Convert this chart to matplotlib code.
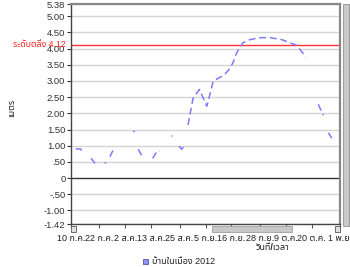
import matplotlib
matplotlib.use("Agg")
import numpy as np
import pandas as pd
import matplotlib.pyplot as plt
from matplotlib.patches import Rectangle

plt.rcParams['font.family'] = ['Liberation Sans', 'Noto Sans Thai']

# water level readings (m), None/NaN = no data
times = pd.Series(pd.to_datetime([
    "2012-07-12 00:00", "2012-07-14 02:00", "2012-07-15 00:00", None,
    "2012-07-18 12:00", "2012-07-20 05:00", None,
    "2012-07-24 05:00", "2012-07-24 22:00", None,
    "2012-07-26 12:00", "2012-07-28 05:00", None,
    "2012-08-05 12:00", "2012-08-05 22:00", None,
    "2012-08-07 12:00", "2012-08-09 00:00", None,
    "2012-08-13 14:00", "2012-08-15 07:00", "2012-08-16 17:00", None,
    "2012-08-21 12:00", "2012-08-21 22:00", None,
    "2012-08-24 19:00", "2012-08-25 22:00", "2012-08-26 22:00", None,
    "2012-08-28 14:00", "2012-08-30 17:00", "2012-09-02 10:00", "2012-09-05 14:00",
    "2012-09-08 07:00", "2012-09-12 19:00", "2012-09-15 10:00", "2012-09-16 19:00",
    "2012-09-18 05:00", "2012-09-20 19:00", "2012-09-23 22:00", "2012-09-28 02:00",
    "2012-10-02 07:00", "2012-10-07 07:00", "2012-10-13 17:00", "2012-10-17 14:00", None,
    "2012-10-22 19:00", "2012-10-24 22:00", None,
    "2012-10-27 02:00", "2012-10-28 12:00",
])).ffill()
levels = [
    0.90, 0.90, 0.77, np.nan,
    0.61, 0.45, np.nan,
    0.47, 0.47, np.nan,
    0.66, 0.92, np.nan,
    1.47, 1.42, np.nan,
    0.89, 0.69, np.nan,
    0.61, 0.81, 0.83, np.nan,
    1.31, 1.29, np.nan,
    0.99, 0.89, 0.99, np.nan,
    1.64, 2.46, 2.74, 2.22,
    3.00, 3.18, 3.39, 3.59,
    3.87, 4.18, 4.28, 4.34,
    4.34, 4.28, 4.10, 3.74, np.nan,
    2.28, 1.94, np.nan,
    1.40, 1.23,
]

bank_level = 4.12
bank_label = "ระดับตลิ่ง 4.12"
series_name = "บ้านในเมือง 2012"

yticks = [5.38, 5.00, 4.50, 4.00, 3.50, 3.00, 2.50, 2.00, 1.50, 1.00, 0.50, 0, -0.50, -1.00, -1.42]
ytick_labels = ["5.38", "5.00", "4.50", "4.00", "3.50", "3.00", "2.50", "2.00", "1.50",
                "1.00", ".50", "0", "-.50", "-1.00", "-1.42"]
xticks = pd.to_datetime(["2012-07-10", "2012-07-22", "2012-08-02", "2012-08-13", "2012-08-25",
                         "2012-09-05", "2012-09-16", "2012-09-28", "2012-10-09", "2012-10-20",
                         "2012-11-01"])
xtick_labels = ["10 ก.ค.", "22 ก.ค.", "2 ส.ค.", "13 ส.ค.", "25 ส.ค.", "5 ก.ย.", "16 ก.ย.",
                "28 ก.ย.", "9 ต.ค.", "20 ต.ค.", "1 พ.ย."]

fig = plt.figure(figsize=(3.5, 2.67), dpi=100)
ax = fig.add_axes([71 / 350, 1 - 224 / 267, 269 / 350, 220 / 267])

for y in yticks:
    if y == 0:
        ax.axhline(y, color="#333333", lw=1.0, zorder=1)
    else:
        ax.axhline(y, color="#d4d4d4", lw=1.0, zorder=1)
ax.axhline(bank_level, color="#ff3030", lw=1.0, zorder=2)

line, = ax.plot(times, levels, color="#7b7bff", lw=1.1, zorder=3)
line.set_dashes((4.5, 2.5))

ax.set_ylim(-1.42, 5.38)
ax.set_xlim(xticks[0], xticks[-1])
ax.set_yticks(yticks)
ax.set_yticklabels(ytick_labels)
ax.set_xticks(xticks)
ax.set_xticklabels(xtick_labels)
ax.tick_params(axis="y", length=3, width=0.8, pad=1, labelsize=6.8, colors="#333333",
               labelcolor="#333333")
ax.tick_params(axis="x", length=3, width=0.8, pad=4, labelsize=6.5, colors="#555555",
               labelcolor="#222222")

for s in ["top", "right"]:
    ax.spines[s].set_color("#888888")
    ax.spines[s].set_linewidth(1.6)
for s in ["left", "bottom"]:
    ax.spines[s].set_color("#444444")
    ax.spines[s].set_linewidth(1.0)

ax.text(-0.018, bank_level, bank_label, transform=ax.get_yaxis_transform(),
        ha="right", va="center", color="#ff2020", fontsize=6.3)

fig.text(12 / 350, 1 - 108 / 267, "เมตร", rotation=90, ha="center", va="center",
         fontsize=6.5, fontweight="bold", color="#222222")
fig.text(273 / 350, 1 - 248 / 267, "วันที่/เวลา", ha="center", va="center",
         fontsize=6.5, fontweight="bold", color="#222222")

# horizontal scrollbar under the plot
fig.patches.append(Rectangle((212 / 350, 1 - 232 / 267), 80 / 350, 6 / 267,
                             transform=fig.transFigure, facecolor="#c8c8c8",
                             edgecolor="#a0a0a0", lw=0.6))
fig.patches.append(Rectangle((71 / 350, 1 - 232 / 267), 5 / 350, 6 / 267,
                             transform=fig.transFigure, facecolor="#e0e0e0",
                             edgecolor="#555555", lw=0.6))
fig.patches.append(Rectangle((335 / 350, 1 - 232 / 267), 5 / 350, 6 / 267,
                             transform=fig.transFigure, facecolor="#e0e0e0",
                             edgecolor="#555555", lw=0.6))
# vertical scrollbar at the right
fig.patches.append(Rectangle((343 / 350, 1 - 226 / 267), 6 / 350, 222 / 267,
                             transform=fig.transFigure, facecolor="#c8c8c8",
                             edgecolor="#909090", lw=0.6))

# legend
fig.patches.append(Rectangle((143 / 350, 1 - 264 / 267), 5 / 350, 5 / 267,
                             transform=fig.transFigure, facecolor="#8f8fff",
                             edgecolor="#404080", lw=0.5))
fig.text(152 / 350, 1 - 261.5 / 267, series_name, ha="left", va="center",
         fontsize=6.5, color="#222222")

fig.savefig("out.png", dpi=100)
